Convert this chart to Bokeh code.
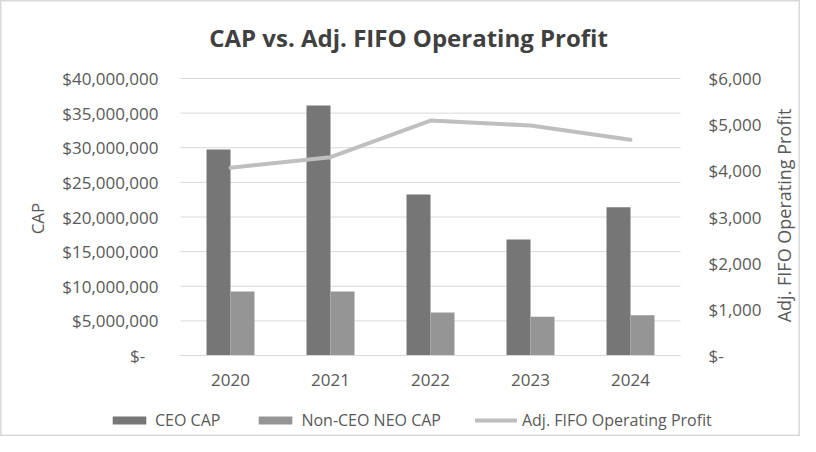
import math
from bokeh.plotting import figure
from bokeh.models import (ColumnDataSource, Range1d, LinearAxis, FixedTicker,
                          Legend, LegendItem, Label)
from bokeh.transform import dodge
from bokeh.embed import file_html
from bokeh.resources import INLINE

years = ["2020", "2021", "2022", "2023", "2024"]
ceo_cap = [29750000, 36100000, 23250000, 16750000, 21400000]
neo_cap = [9250000, 9250000, 6200000, 5600000, 5800000]
op_profit = [4066, 4296, 5090, 4982, 4672]

left_ticks = [0, 5000000, 10000000, 15000000, 20000000, 25000000, 30000000, 35000000, 40000000]
left_labels = ["$-\u00a0\u00a0\u00a0", "$5,000,000", "$10,000,000", "$15,000,000", "$20,000,000",
               "$25,000,000", "$30,000,000", "$35,000,000", "$40,000,000"]
right_ticks = [0, 1000, 2000, 3000, 4000, 5000, 6000]
right_labels = ["$-", "$1,000", "$2,000", "$3,000", "$4,000", "$5,000", "$6,000"]
series_names = ["CEO CAP", "Non-CEO NEO CAP", "Adj. FIFO Operating Profit"]
title_text = "CAP vs. Adj. FIFO Operating Profit"
left_title = "CAP"
right_title = "Adj. FIFO Operating Profit"

FONT = "Open Sans"
TXT = "#595959"
FS = "17px"
C_CEO, C_NEO, C_OP, C_GRID = "#767676", "#959595", "#bfbfbf", "#d9d9d9"

W, H = 800, 436
yr = [int(y) for y in years]
x_lo, x_hi = yr[0] - 0.5, yr[-1] + 0.5
y_max_l, y_max_r = left_ticks[-1], right_ticks[-1]
# plot area in pixels: zero line at 355, top gridline at 78 (277 px)
below_frac, above_frac = 81 / 277, 78 / 277

src = ColumnDataSource(data=dict(yr=yr, ceo=ceo_cap, neo=neo_cap, op=op_profit))
grid_src = ColumnDataSource(data=dict(y=left_ticks, x0=[x_lo] * len(left_ticks),
                                      x1=[x_hi] * len(left_ticks)))

p = figure(width=W, height=H, x_range=Range1d(yr[0] - 2.3, yr[0] + 5.7),
           y_range=Range1d(-y_max_l * below_frac, y_max_l * (1 + above_frac)),
           output_backend="svg", toolbar_location=None,
           x_axis_location=None, y_axis_location=None,
           min_border_left=0, min_border_right=0, min_border_top=0, min_border_bottom=0)
p.extra_y_ranges = {"op": Range1d(-y_max_r * below_frac, y_max_r * (1 + above_frac))}
p.outline_line_color = C_GRID
p.outline_line_width = 2
p.background_fill_color = "white"
p.border_fill_color = "white"
p.grid.visible = False

p.segment(x0="x0", x1="x1", y0="y", y1="y", source=grid_src, line_color=C_GRID, line_width=1)

r_ceo = p.vbar(x=dodge("yr", -0.12), top="ceo", width=0.24, source=src,
               fill_color=C_CEO, line_color=None)
r_neo = p.vbar(x=dodge("yr", 0.12), top="neo", width=0.24, source=src,
               fill_color=C_NEO, line_color=None)
r_op = p.line(x="yr", y="op", source=src, y_range_name="op", line_color=C_OP,
              line_width=4, line_cap="round", line_join="round")

def style_axis(ax):
    ax.axis_label_text_font = FONT
    ax.axis_label_text_font_style = "normal"
    ax.axis_label_text_color = TXT
    ax.major_label_text_font = FONT
    ax.major_label_text_font_size = FS
    ax.major_label_text_color = TXT
    ax.major_tick_line_color = None
    ax.minor_tick_line_color = None

# left axis
ya = LinearAxis(ticker=FixedTicker(ticks=left_ticks), fixed_location=x_lo)
ya.major_label_overrides = {t: l for t, l in zip(left_ticks, left_labels)}
style_axis(ya)
ya.axis_label = left_title
ya.axis_label_text_font_size = "17px"
ya.axis_label_standoff = 10
ya.major_label_standoff = 16
ya.axis_line_color = None
p.add_layout(ya, "left")

# right axis
ra = LinearAxis(y_range_name="op", ticker=FixedTicker(ticks=right_ticks), fixed_location=x_hi)
ra.major_label_overrides = {t: l for t, l in zip(right_ticks, right_labels)}
style_axis(ra)
ra.major_label_standoff = 22
ra.axis_line_color = None
p.add_layout(ra, "right")

# x axis at zero
xa = LinearAxis(ticker=FixedTicker(ticks=yr), fixed_location=0, bounds=(x_lo, x_hi))
xa.major_label_overrides = {t: l for t, l in zip(yr, years)}
style_axis(xa)
xa.axis_line_color = C_GRID
xa.major_label_standoff = 12
p.add_layout(xa, "below")

# chart title and right axis title
p.add_layout(Label(x=408, y=H - 37, x_units="screen", y_units="screen", text=title_text,
                   text_font=FONT, text_font_size="24px", text_font_style="bold",
                   text_color="#404040", text_align="center", text_baseline="middle"))
p.add_layout(Label(x=783, y=H - 215, x_units="screen", y_units="screen", text=right_title,
                   angle=math.pi / 2, text_font=FONT, text_font_size="18px",
                   text_color=TXT, text_align="center", text_baseline="middle"))

legend = Legend(items=[LegendItem(label=series_names[0], renderers=[r_ceo]),
                       LegendItem(label=series_names[1], renderers=[r_neo]),
                       LegendItem(label=series_names[2], renderers=[r_op])],
                orientation="horizontal", location=(108, 5),
                glyph_width=42, glyph_height=10, label_standoff=5, spacing=34,
                padding=0, margin=0, border_line_color=None, background_fill_alpha=0,
                label_text_font=FONT, label_text_font_size="16px", label_text_color=TXT)
p.add_layout(legend, "center")

open("out.html", "w").write(file_html(p, INLINE))
